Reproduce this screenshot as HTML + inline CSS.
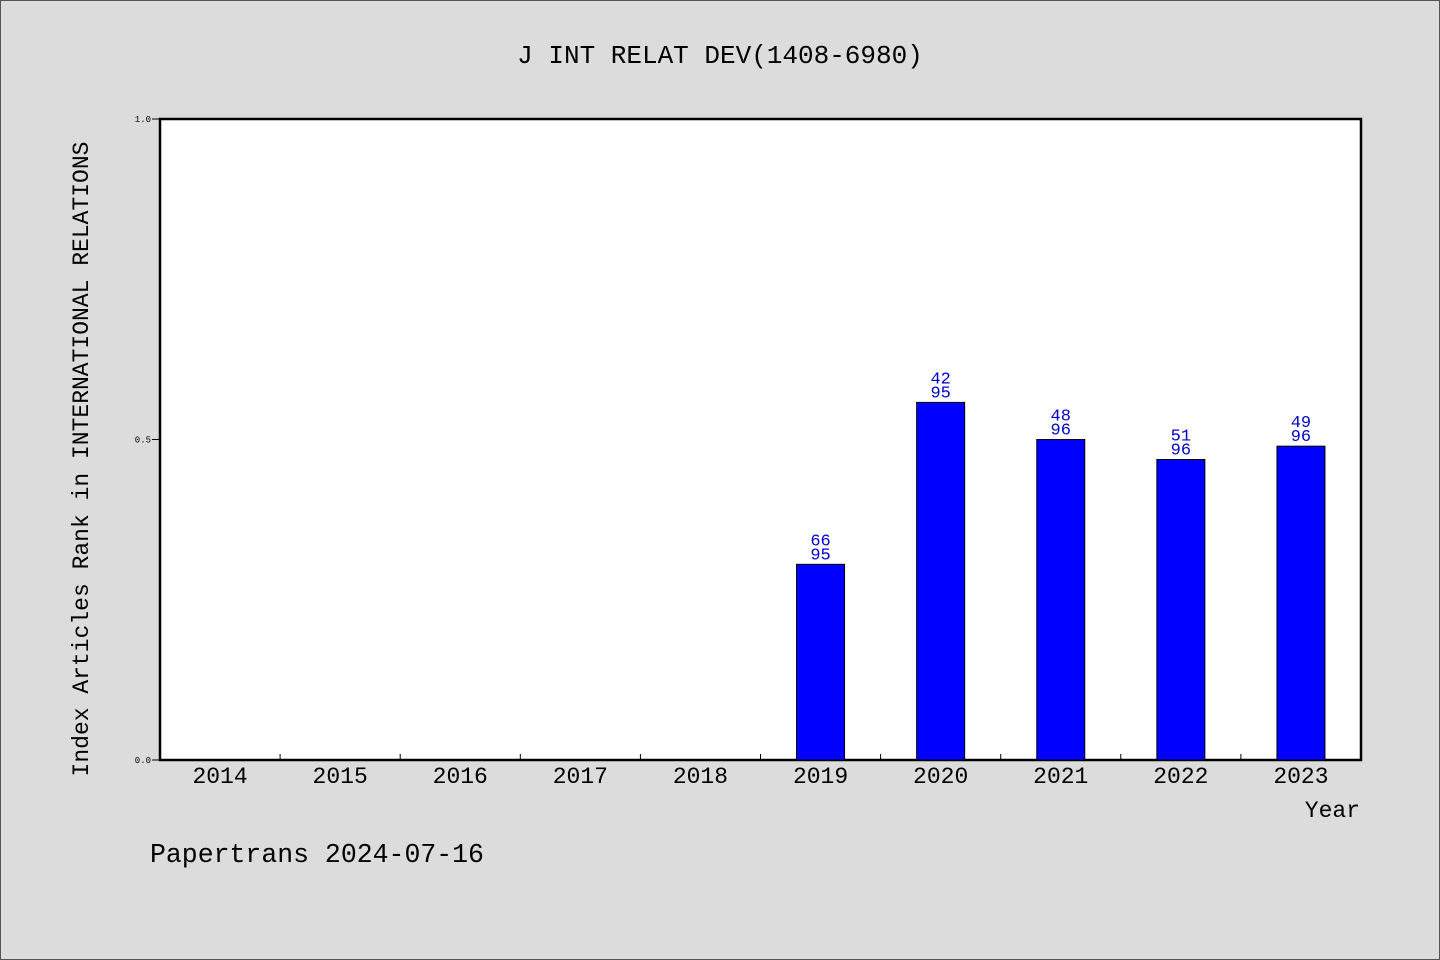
<!DOCTYPE html>
<html><head><meta charset="utf-8"><style>
html,body{margin:0;padding:0;background:#dcdcdc;overflow:hidden;width:1440px;height:960px;}
svg{display:block;}
svg text{font-family:"Liberation Mono","WenQuanYi Zen Hei",monospace;}
</style></head><body>
<svg width="1440" height="960" xmlns="http://www.w3.org/2000/svg" id="chart">
<rect x="0.5" y="0.5" width="1439" height="959" fill="#dcdcdc" stroke="#555"/>
<text x="720" y="63" text-anchor="middle" font-size="26">J INT RELAT DEV(1408-6980)</text>
<rect x="160" y="119" width="1201" height="641" fill="#fff" stroke="#000" stroke-width="2.5"/>
<text transform="translate(88,459) rotate(-90)" text-anchor="middle" font-size="23">Index Articles Rank in INTERNATIONAL RELATIONS</text>
<text x="1360" y="817" text-anchor="end" font-size="23">Year</text>
<text x="150" y="862" font-size="26.5">Papertrans 2024-07-16</text>
<g id="g"></g>
</svg>
<script>
const years=["2014","2015","2016","2017","2018","2019","2020","2021","2022","2023"];
const ranks=[null,null,null,null,null,66,42,48,51,49];
const totals=[null,null,null,null,null,95,95,96,96,96];
const yTicks=[0,0.5,1];
const yTickLabels=["0.0","0.5","1.0"];
const NS="http://www.w3.org/2000/svg";
const g=document.getElementById('g');
const x0=160,w=1201,y0=760,h=641;
const bw=w/years.length;
const X=i=>x0+bw*(i+0.5);
const Y=v=>y0-v*h;
function mk(t,a){const e=document.createElementNS(NS,t);for(const k in a)e.setAttribute(k,a[k]);g.appendChild(e);return e;}
yTicks.forEach((v,i)=>{
 const l=mk('line',{x1:152,x2:160,y1:Y(v),y2:Y(v),stroke:'#000'});
 
 
 const t=mk('text',{x:151,y:Y(v)+3,'text-anchor':'end','font-size':9});
 t.textContent=yTickLabels[i];
 
 
});
years.forEach((yr,i)=>{
 if(i>0){const l=mk('line',{x1:x0+bw*i,x2:x0+bw*i,y1:y0,y2:y0-6,stroke:'#000'});
 
 }
 const t=mk('text',{x:X(i),y:783,'text-anchor':'middle','font-size':23});
 t.textContent=yr;
 
 
 if(ranks[i]==null)return;
 const v=1-ranks[i]/totals[i];
 const r=mk('rect',{x:X(i)-24,y:Y(v),width:48,height:y0-Y(v),fill:'#0000ff',stroke:'#000','stroke-width':1});
 
 
 const a=mk('text',{x:X(i),y:Y(v)-19,'text-anchor':'middle','font-size':17,fill:'#0000cc'});
 a.textContent=ranks[i];
 
 
 const b=mk('text',{x:X(i),y:Y(v)-5,'text-anchor':'middle','font-size':17,fill:'#0000cc'});
 b.textContent=totals[i];
 
 
});
</script>
</body></html>
